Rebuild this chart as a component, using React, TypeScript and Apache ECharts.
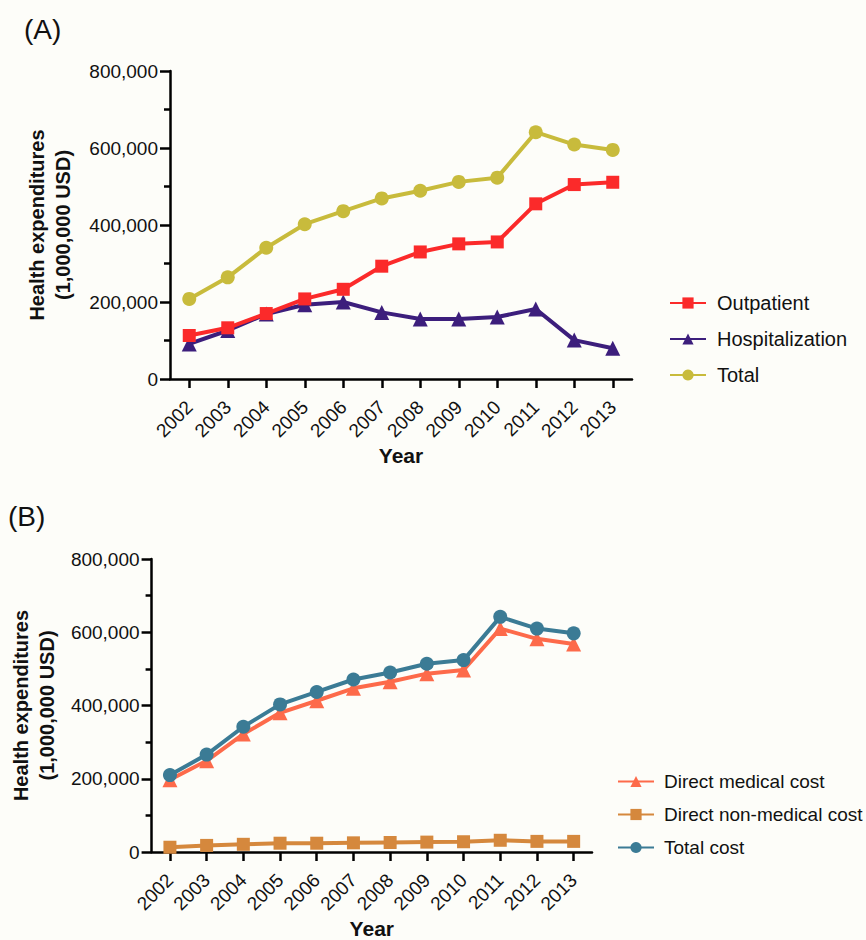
import React, { useEffect, useRef } from "react";
import * as echarts from "echarts";

const years = ["2002", "2003", "2004", "2005", "2006", "2007", "2008", "2009", "2010", "2011", "2012", "2013"];

// Panel A
const outpatient = [113000, 133000, 170000, 208000, 233000, 293000, 330000, 351000, 356000, 455000, 505000, 511000];
const hospitalization = [91000, 126000, 169000, 193000, 200000, 173000, 156000, 156000, 161000, 182000, 101000, 80000];
const totalA = [208000, 264000, 341000, 402000, 436000, 469000, 489000, 512000, 523000, 641000, 609000, 595000];

// Panel B
const directMedical = [197000, 249000, 322000, 380000, 413000, 447000, 465000, 487000, 497000, 610000, 582000, 568000];
const directNonMedical = [13000, 18000, 21000, 24000, 24000, 25000, 26000, 27000, 28000, 32000, 29000, 29000];
const totalCost = [210000, 266000, 342000, 403000, 437000, 471000, 490000, 514000, 524000, 642000, 610000, 597000];

const yMin = 0;
const yMax = 800000;
const yInterval = 200000;

const FONT = "'Liberation Sans', Arial, sans-serif";

function xAxisCfg(gridIndex: number) {
  return {
    type: "category",
    gridIndex,
    data: years,
    boundaryGap: true,
    name: "Year",
    nameLocation: "middle",
    nameGap: 66,
    nameTextStyle: { fontFamily: FONT, fontWeight: "bold", fontSize: 21, color: "#111" },
    axisLine: { show: true, onZero: false, lineStyle: { color: "#000", width: 2.5 } },
    axisTick: { show: true, inside: false, alignWithLabel: true, length: 9, lineStyle: { color: "#000", width: 2.5 } },
    axisLabel: { show: true, interval: 0, rotate: 45, margin: 25, fontFamily: FONT, fontSize: 19, color: "#111" },
    splitLine: { show: false },
  };
}

function yAxisCfg(gridIndex: number, nameGap: number) {
  return {
    type: "value",
    gridIndex,
    min: yMin,
    max: yMax,
    interval: yInterval,
    name: "Health expenditures\n(1,000,000 USD)",
    nameLocation: "middle",
    nameRotate: 90,
    nameGap,
    nameTextStyle: { fontFamily: FONT, fontWeight: "bold", fontSize: 20, color: "#111", lineHeight: 26 },
    axisLine: { show: true, lineStyle: { color: "#000", width: 2.5 } },
    axisTick: { show: true, inside: false, length: 10, lineStyle: { color: "#000", width: 2.5 } },
    minorTick: { show: true, splitNumber: 2, length: 6, lineStyle: { color: "#000", width: 2.5 } },
    axisLabel: {
      margin: 12,
      fontFamily: FONT,
      fontSize: 19,
      color: "#111",
      formatter: (v: number) => v.toLocaleString("en-US"),
    },
    splitLine: { show: false },
  };
}

function lineSeries(name: string, data: number[], color: string, symbol: string, size: number, idx: number) {
  return {
    type: "line",
    name,
    data,
    xAxisIndex: idx,
    yAxisIndex: idx,
    symbol,
    symbolSize: size,
    showAllSymbol: true,
    lineStyle: { color, width: 4 },
    itemStyle: { color },
    z: 3,
  };
}

export default function App() {
  const ref = useRef<HTMLDivElement>(null);
  useEffect(() => {
    if (!ref.current) return;
    const chart = echarts.init(ref.current, undefined, { renderer: "svg" });
    chart.setOption({
      animation: false,
      backgroundColor: "#fdfdf9",
      graphic: [
        { type: "text", left: 24, top: 15, style: { text: "(A)", font: `28px ${FONT}`, fill: "#111" } },
        { type: "text", left: 8, top: 502, style: { text: "(B)", font: `28px ${FONT}`, fill: "#111" } },
      ],
      grid: [
        { left: 170, top: 71, width: 462, height: 308, containLabel: false },
        { left: 147, top: 559, width: 445, height: 298, containLabel: false },
      ],
      xAxis: [xAxisCfg(0), xAxisCfg(1)],
      yAxis: [yAxisCfg(0, 94), yAxisCfg(1, 89)],
      legend: [
        {
          orient: "vertical",
          left: 664,
          top: 288,
          itemWidth: 36,
          itemHeight: 14,
          itemGap: 16,
          data: ["Outpatient", "Hospitalization", "Total"],
          textStyle: { fontFamily: FONT, fontSize: 20, color: "#111", padding: [0, 0, 0, 6] },
        },
        {
          orient: "vertical",
          left: 612,
          top: 767,
          itemWidth: 36,
          itemHeight: 14,
          itemGap: 14,
          data: ["Direct medical cost", "Direct non-medical cost", "Total cost"],
          textStyle: { fontFamily: FONT, fontSize: 19, color: "#111", padding: [0, 0, 0, 5] },
        },
      ],
      series: [
        lineSeries("Total", totalA, "#c8bb3c", "circle", 14, 0),
        lineSeries("Hospitalization", hospitalization, "#3c1e7c", "triangle", 15, 0),
        lineSeries("Outpatient", outpatient, "#fb2a2a", "rect", 13, 0),
        lineSeries("Direct non-medical cost", directNonMedical, "#d5883d", "rect", 13, 1),
        lineSeries("Direct medical cost", directMedical, "#fd6a4a", "triangle", 15, 1),
        lineSeries("Total cost", totalCost, "#3b7b95", "circle", 14, 1),
      ],
    });
    return () => chart.dispose();
  }, []);
  return (
    <div
      ref={ref}
      style={{ position: "absolute", left: 0, top: 0, width: 866, height: 940, background: "#fdfdf9" }}
    />
  );
}
